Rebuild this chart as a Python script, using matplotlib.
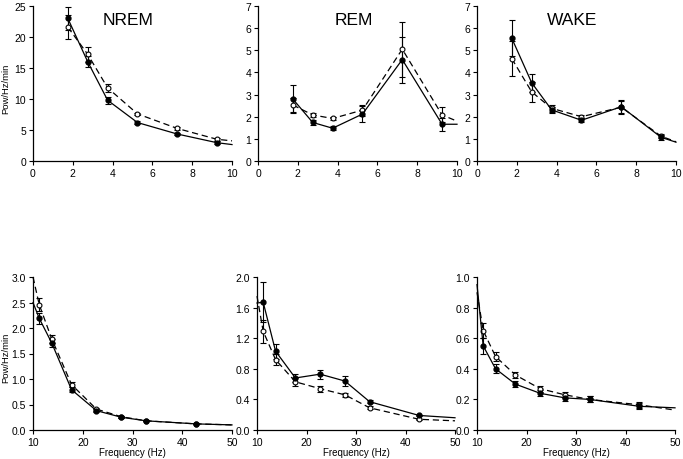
import matplotlib
matplotlib.use("Agg")
import matplotlib.pyplot as plt

plt.rcParams['font.family'] = ['Liberation Sans', 'DejaVu Sans']

# ---- data ----
# low-frequency bins (Hz); last entry is the line's end at the axis edge (no marker)
freq_low = [1.75, 2.75, 3.75, 5.25, 7.25, 9.25, 10.0]
# high-frequency bins; first entry is the line's start at the axis edge, last the end
freq_high = [10.0, 11.25, 13.75, 17.75, 22.75, 27.75, 32.75, 42.75, 50.0]

nrem_low_filled = [23.0, 16.0, 9.8, 6.2, 4.35, 2.95, 2.65]
nrem_low_filled_err = [1.9, 0.9, 0.6, 0.2, 0.2, 0.2, 0]
nrem_low_open = [21.6, 17.2, 11.8, 7.6, 5.25, 3.5, 3.25]
nrem_low_open_err = [1.95, 1.2, 0.7, 0.2, 0.2, 0.2, 0]

rem_low_filled = [2.8, 1.74, 1.48, 2.12, 4.58, 1.66, 1.66]
rem_low_filled_err = [0.63, 0.1, 0.1, 0.38, 1.04, 0.3, 0]
rem_low_open = [2.53, 2.08, 1.92, 2.3, 5.05, 2.08, 1.8]
rem_low_open_err = [0.3, 0.08, 0.08, 0.25, 1.24, 0.34, 0]

wake_low_filled = [5.54, 3.53, 2.31, 1.84, 2.45, 1.07, 0.85]
wake_low_filled_err = [0.82, 0.42, 0.15, 0.08, 0.3, 0.1, 0]
wake_low_open = [4.62, 3.12, 2.38, 2.0, 2.43, 1.12, 0.87]
wake_low_open_err = [0.8, 0.45, 0.15, 0.08, 0.3, 0.1, 0]

nrem_high_filled = [2.5, 2.19, 1.71, 0.79, 0.38, 0.25, 0.18, 0.12, 0.1]
nrem_high_filled_err = [0, 0.11, 0.08, 0.05, 0.03, 0.02, 0.01, 0.01, 0]
nrem_high_open = [3.0, 2.46, 1.79, 0.89, 0.41, 0.26, 0.18, 0.12, 0.1]
nrem_high_open_err = [0, 0.12, 0.08, 0.05, 0.03, 0.02, 0.01, 0.01, 0]

rem_high_filled = [1.66, 1.67, 1.03, 0.68, 0.73, 0.64, 0.37, 0.19, 0.16]
rem_high_filled_err = [0, 0.26, 0.1, 0.05, 0.06, 0.07, 0.02, 0.01, 0]
rem_high_open = [1.75, 1.29, 0.92, 0.63, 0.54, 0.46, 0.29, 0.14, 0.12]
rem_high_open_err = [0, 0.15, 0.07, 0.05, 0.04, 0.03, 0.02, 0.01, 0]

wake_high_filled = [0.95, 0.55, 0.40, 0.30, 0.24, 0.21, 0.20, 0.155, 0.145]
wake_high_filled_err = [0, 0.05, 0.03, 0.02, 0.02, 0.02, 0.02, 0.02, 0]
wake_high_open = [0.9, 0.65, 0.48, 0.36, 0.27, 0.23, 0.20, 0.165, 0.13]
wake_high_open_err = [0, 0.05, 0.03, 0.02, 0.02, 0.02, 0.02, 0.02, 0]

titles = ["NREM", "REM", "WAKE"]
low_yticks = [[0, 5, 10, 15, 20, 25], [0, 1, 2, 3, 4, 5, 6, 7], [0, 1, 2, 3, 4, 5, 6, 7]]
low_xticks = [0, 2, 4, 6, 8, 10]
high_yticks = [[0.0, 0.5, 1.0, 1.5, 2.0, 2.5, 3.0],
               [0.0, 0.4, 0.8, 1.2, 1.6, 2.0],
               [0.0, 0.2, 0.4, 0.6, 0.8, 1.0]]
high_xticks = [10, 20, 30, 40, 50]

# ---- figure ----
W, H = 683, 460
fig = plt.figure(figsize=(W / 100, H / 100), dpi=100)

def px_axes(x0, x1, ytop, ybot):
    return fig.add_axes([x0 / W, 1 - ybot / H, (x1 - x0) / W, (ybot - ytop) / H])

top_boxes = [(33, 232), (258, 457), (477, 676)]
bot_boxes = [(33, 232), (257, 455), (477, 675)]

low_data = [
    (nrem_low_filled, nrem_low_filled_err, nrem_low_open, nrem_low_open_err),
    (rem_low_filled, rem_low_filled_err, rem_low_open, rem_low_open_err),
    (wake_low_filled, wake_low_filled_err, wake_low_open, wake_low_open_err),
]
high_data = [
    (nrem_high_filled, nrem_high_filled_err, nrem_high_open, nrem_high_open_err),
    (rem_high_filled, rem_high_filled_err, rem_high_open, rem_high_open_err),
    (wake_high_filled, wake_high_filled_err, wake_high_open, wake_high_open_err),
]

def style(ax, xt, yt, fmt):
    for s in ['top', 'right']:
        ax.spines[s].set_visible(False)
    for s in ['left', 'bottom']:
        ax.spines[s].set_linewidth(0.9)
    ax.set_xticks(xt)
    ax.set_yticks(yt)
    ax.set_xticklabels([str(v) for v in xt])
    ax.set_yticklabels([fmt(v) for v in yt])
    ax.tick_params(length=3, width=0.8, labelsize=7.5, pad=2)
    ax.set_xlim(xt[0], xt[-1])
    ax.set_ylim(yt[0], yt[-1])

def draw(ax, x, filled, ferr, opn, oerr, mk):
    ax.plot(x, opn, color='black', lw=0.9, ls=(0, (5, 3)), marker='o', ms=3.5,
            mfc='white', mec='black', mew=0.8, markevery=mk, clip_on=False, zorder=3)
    ax.errorbar([x[i] for i in mk], [opn[i] for i in mk], yerr=[oerr[i] for i in mk],
                fmt='none', ecolor='black', elinewidth=0.8, capsize=2, capthick=0.8, zorder=2)
    ax.plot(x, filled, color='black', lw=0.9, ls='-', marker='o', ms=3.5,
            mfc='black', mec='black', markevery=mk, clip_on=False, zorder=4)
    ax.errorbar([x[i] for i in mk], [filled[i] for i in mk], yerr=[ferr[i] for i in mk],
                fmt='none', ecolor='black', elinewidth=0.8, capsize=2, capthick=0.8, zorder=2)

for i in range(3):
    x0, x1 = top_boxes[i]
    ax = px_axes(x0, x1, 7, 162)
    f, fe, o, oe = low_data[i]
    draw(ax, freq_low, f, fe, o, oe, list(range(6)))
    style(ax, low_xticks, low_yticks[i], lambda v: str(v))
    ax.text(0.48, 0.915, titles[i], transform=ax.transAxes, ha='center', va='center',
            fontsize=12.5)
    if i == 0:
        ax.set_ylabel("Pow/Hz/min", fontsize=6.8)
        ax.yaxis.set_label_coords((6 - x0) / (x1 - x0), 0.47)
        ax.yaxis.label.set_va('center')

for i in range(3):
    x0, x1 = bot_boxes[i]
    ax = px_axes(x0, x1, 278, 431)
    f, fe, o, oe = high_data[i]
    draw(ax, freq_high, f, fe, o, oe, list(range(1, 8)))
    style(ax, high_xticks, high_yticks[i], lambda v: f"{v:.1f}")
    ax.set_xlabel("Frequency (Hz)", fontsize=7)
    ax.xaxis.set_label_coords(0.5, (431 - 453) / 153)
    ax.xaxis.label.set_va('center')
    if i == 0:
        ax.set_ylabel("Pow/Hz/min", fontsize=6.8)
        ax.yaxis.set_label_coords((6 - x0) / (x1 - x0), 0.48)
        ax.yaxis.label.set_va('center')

fig.savefig("out.png", dpi=100)
